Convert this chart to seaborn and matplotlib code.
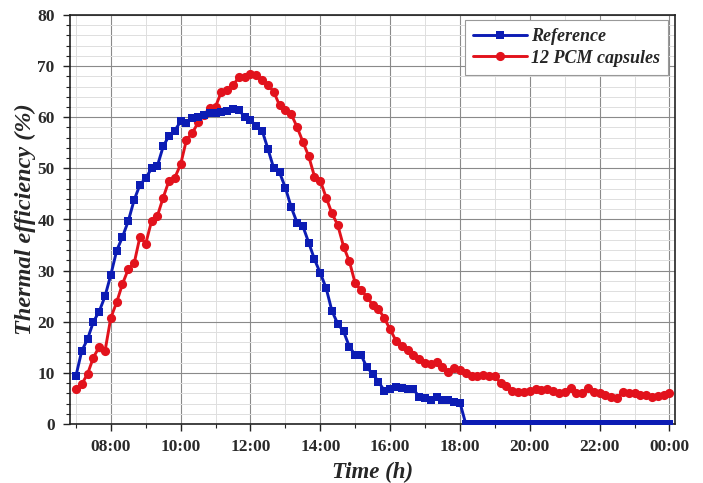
import numpy as np
import pandas as pd
import matplotlib
matplotlib.use("Agg")
import matplotlib.pyplot as plt
from matplotlib.ticker import MultipleLocator, FixedLocator
import seaborn as sns

# ---- data (10-minute samples from 07:00 to 24:00) ----
times = pd.date_range("2000-01-01 07:00", "2000-01-02 00:00", freq="10min")
hours = (times - pd.Timestamp("2000-01-01")).total_seconds() / 3600.0

reference = [
    9.4, 14.3, 16.6, 20.0, 22.0, 25.0,
    29.2, 33.9, 36.6, 39.7, 43.8, 46.8,
    48.1, 50.0, 50.5, 54.3, 56.4, 57.4,
    59.2, 58.8, 59.8, 60.1, 60.5, 60.8,
    60.9, 61.0, 61.3, 61.7, 61.4, 60.1,
    59.5, 58.2, 57.4, 53.8, 50.0, 49.2,
    46.2, 42.4, 39.4, 38.7, 35.5, 32.2,
    29.5, 26.6, 22.1, 19.6, 18.1, 15.1,
    13.5, 13.5, 11.1, 9.8, 8.3, 6.5,
    6.8, 7.3, 7.0, 6.8, 6.8, 5.3,
    5.0, 4.7, 5.2, 4.7, 4.7, 4.4,
    4.2, 0.0, 0.0, 0.0, 0.0, 0.0,
    0.0, 0.0, 0.0, 0.0, 0.0, 0.0,
    0.0, 0.0, 0.0, 0.0, 0.0, 0.0,
    0.0, 0.0, 0.0, 0.0, 0.0, 0.0,
    0.0, 0.0, 0.0, 0.0, 0.0, 0.0,
    0.0, 0.0, 0.0, 0.0, 0.0, 0.0,
    0.0,
]

pcm12 = [
    6.8, 7.8, 9.8, 13.0, 15.1, 14.3,
    20.8, 23.8, 27.4, 30.3, 31.4, 36.6,
    35.3, 39.7, 40.7, 44.3, 47.6, 48.2,
    50.8, 55.6, 56.9, 59.0, 60.5, 61.8,
    62.1, 65.0, 65.4, 66.3, 67.8, 67.8,
    68.5, 68.2, 67.3, 66.3, 65.0, 62.3,
    61.4, 60.6, 58.1, 55.2, 52.4, 48.4,
    47.6, 44.3, 41.2, 38.9, 34.7, 31.8,
    27.5, 26.2, 24.9, 23.3, 22.5, 20.7,
    18.5, 16.3, 15.3, 14.5, 13.5, 12.8,
    11.9, 11.7, 12.2, 11.1, 10.2, 10.9,
    10.6, 9.9, 9.3, 9.3, 9.6, 9.4,
    9.3, 8.0, 7.5, 6.5, 6.3, 6.2,
    6.5, 6.8, 6.7, 6.8, 6.5, 6.0,
    6.3, 7.1, 6.1, 6.0, 7.0, 6.3,
    6.0, 5.7, 5.3, 5.1, 6.3, 6.0,
    6.0, 5.7, 5.7, 5.3, 5.5, 5.7,
    6.0,
]

tick_hours = [8, 10, 12, 14, 16, 18, 20, 22, 24]
tick_labels = ["08:00", "10:00", "12:00", "14:00", "16:00", "18:00", "20:00", "22:00", "00:00"]
series_names = ["Reference", "12 PCM capsules"]

df = pd.DataFrame({
    "hour": np.concatenate([hours, hours]),
    "eff": np.concatenate([reference, pcm12]),
    "series": [series_names[0]] * len(hours) + [series_names[1]] * len(hours),
})

sns.set_theme(style="white")
plt.rcParams["font.family"] = ["Liberation Serif", "DejaVu Serif"]

fig = plt.figure(figsize=(7.03, 4.83), dpi=100)
ax = fig.add_axes([70 / 703, 59 / 483, 605 / 703, 409 / 483])

blue = "#0c1cb4"
red = "#e2121c"

sns.lineplot(data=df[df.series == series_names[0]], x="hour", y="eff", ax=ax,
             color=blue, marker="s", markersize=5.4, markeredgewidth=0,
             linewidth=2.1, label=series_names[0], zorder=4)
sns.lineplot(data=df[df.series == series_names[1]], x="hour", y="eff", ax=ax,
             color=red, marker="o", markersize=6.6, markeredgewidth=0,
             linewidth=2.1, label=series_names[1], zorder=3)

ax.set_xlim(6.83, 24.16)
ax.set_ylim(0, 80)

ax.xaxis.set_major_locator(FixedLocator(tick_hours))
ax.set_xticklabels(tick_labels)
ax.xaxis.set_minor_locator(FixedLocator([7, 9, 11, 13, 15, 17, 19, 21, 23]))
ax.yaxis.set_major_locator(MultipleLocator(10))
ax.yaxis.set_minor_locator(MultipleLocator(2))

ax.grid(which="major", color="#8a8a8a", linewidth=0.8)
ax.grid(which="minor", color="#dedede", linewidth=0.7)
ax.set_axisbelow(True)

ax.tick_params(axis="both", which="major", direction="out", length=5, width=1.0,
               color="#222222", labelsize=12.5, bottom=True, left=True, pad=6)
ax.tick_params(axis="both", which="minor", direction="out", length=3, width=0.8,
               color="#222222", bottom=True, left=True)
for lbl in ax.get_xticklabels() + ax.get_yticklabels():
    lbl.set_fontweight("bold")
    lbl.set_color("#2a2a2a")

for side in ["left", "right", "top", "bottom"]:
    ax.spines[side].set_visible(True)
    ax.spines[side].set_color("#222222")
    ax.spines[side].set_linewidth(1.2)

ax.set_xlabel("Time (h)", fontsize=16.5, fontweight="bold", fontstyle="italic", labelpad=5)
ax.set_ylabel("Thermal efficiency (%)", fontsize=17.5, fontweight="bold", fontstyle="italic", labelpad=1)

leg = ax.legend(loc="upper right", bbox_to_anchor=(598 / 605, 404 / 409), borderaxespad=0,
                frameon=True, fancybox=False,
                edgecolor="#999999", framealpha=1, handlelength=3.0, handletextpad=0.2,
                borderpad=0.45, labelspacing=0.25,
                prop={"family": "Liberation Serif", "weight": "bold", "style": "italic", "size": 13})
leg.get_frame().set_linewidth(0.8)

fig.savefig("out.png", dpi=100)
